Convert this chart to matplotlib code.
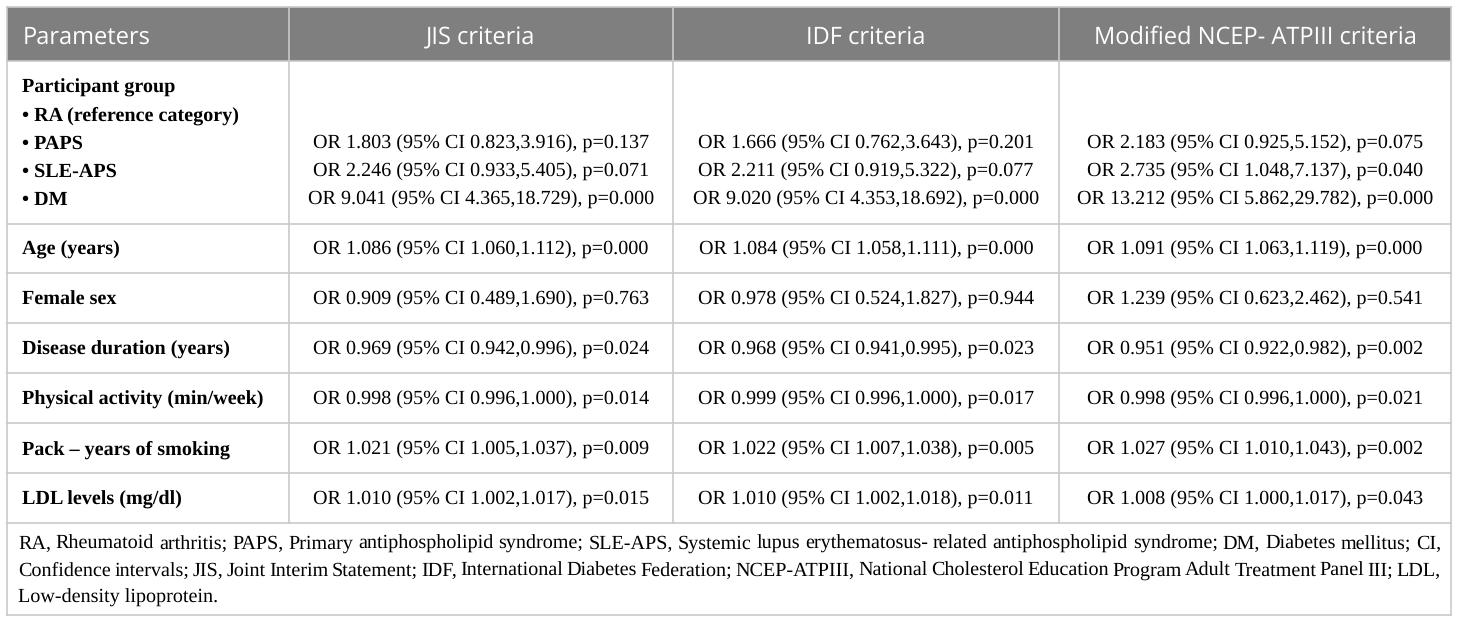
import matplotlib.pyplot as plt
from matplotlib.patches import Rectangle

plt.rcParams['text.hinting'] = 'no_hinting'

# table content
headers = ['Parameters', 'JIS criteria', 'IDF criteria', 'Modified NCEP- ATPIII criteria']

group_title = 'Participant group'
group_items = ['RA (reference category)', 'PAPS', 'SLE-APS', 'DM']
group_jis = ['', 'OR 1.803 (95% CI 0.823,3.916), p=0.137',
             'OR 2.246 (95% CI 0.933,5.405), p=0.071',
             'OR 9.041 (95% CI 4.365,18.729), p=0.000']
group_idf = ['', 'OR 1.666 (95% CI 0.762,3.643), p=0.201',
             'OR 2.211 (95% CI 0.919,5.322), p=0.077',
             'OR 9.020 (95% CI 4.353,18.692), p=0.000']
group_ncep = ['', 'OR 2.183 (95% CI 0.925,5.152), p=0.075',
              'OR 2.735 (95% CI 1.048,7.137), p=0.040',
              'OR 13.212 (95% CI 5.862,29.782), p=0.000']

params = ['Age (years)', 'Female sex', 'Disease duration (years)',
          'Physical activity (min/week)', 'Pack \u2013 years of smoking',
          'LDL levels (mg/dl)']
jis = ['OR 1.086 (95% CI 1.060,1.112), p=0.000',
       'OR 0.909 (95% CI 0.489,1.690), p=0.763',
       'OR 0.969 (95% CI 0.942,0.996), p=0.024',
       'OR 0.998 (95% CI 0.996,1.000), p=0.014',
       'OR 1.021 (95% CI 1.005,1.037), p=0.009',
       'OR 1.010 (95% CI 1.002,1.017), p=0.015']
idf = ['OR 1.084 (95% CI 1.058,1.111), p=0.000',
       'OR 0.978 (95% CI 0.524,1.827), p=0.944',
       'OR 0.968 (95% CI 0.941,0.995), p=0.023',
       'OR 0.999 (95% CI 0.996,1.000), p=0.017',
       'OR 1.022 (95% CI 1.007,1.038), p=0.005',
       'OR 1.010 (95% CI 1.002,1.018), p=0.011']
ncep = ['OR 1.091 (95% CI 1.063,1.119), p=0.000',
        'OR 1.239 (95% CI 0.623,2.462), p=0.541',
        'OR 0.951 (95% CI 0.922,0.982), p=0.002',
        'OR 0.998 (95% CI 0.996,1.000), p=0.021',
        'OR 1.027 (95% CI 1.010,1.043), p=0.002',
        'OR 1.008 (95% CI 1.000,1.017), p=0.043']

footnote = [
    'RA, Rheumatoid arthritis; PAPS, Primary antiphospholipid syndrome; SLE-APS, Systemic lupus '
    'erythematosus- related antiphospholipid syndrome; DM, Diabetes mellitus; CI,',
    'Confidence intervals; JIS, Joint Interim Statement; IDF, International Diabetes Federation; '
    'NCEP-ATPIII, National Cholesterol Education Program Adult Treatment Panel III; LDL,',
    'Low-density lipoprotein.',
]

# layout (pixels)
W, H = 1460, 624
col_x = [7, 289, 673, 1059, 1451]
row_y = [7, 61, 224, 273, 323, 373, 423, 473, 523, 615]
grid_c = '#c9c9c9'
head_c = '#7f7f7f'
serif = 'Liberation Serif'
fs = 14.5

fig = plt.figure(figsize=(W / 100, H / 100), dpi=100)
ax = fig.add_axes([0, 0, 1, 1])
ax.set_xlim(0, W)
ax.set_ylim(H, 0)
ax.axis('off')

# header band
ax.add_patch(Rectangle((col_x[0], row_y[0]), col_x[-1] - col_x[0], row_y[1] - row_y[0],
                       facecolor=head_c, edgecolor='none', zorder=1))

# grid lines
for y in row_y:
    ax.plot([col_x[0], col_x[-1]], [y, y], color=grid_c, lw=1.2, zorder=2)
for x in (col_x[0], col_x[-1]):
    ax.plot([x, x], [row_y[0], row_y[-1]], color=grid_c, lw=1.2, zorder=2)
for x in col_x[1:-1]:
    ax.plot([x, x], [row_y[0], row_y[-2]], color=grid_c, lw=1.2, zorder=2)

# header text
ax.text(23, 44, headers[0], color='white', fontsize=17, family='Open Sans',
        ha='left', va='baseline', zorder=3)
for i in range(1, 4):
    ax.text((col_x[i] + col_x[i + 1]) / 2, 44, headers[i], color='white', fontsize=17,
            family='Open Sans', ha='center', va='baseline', zorder=3)

# participant group block
base = 93
ax.text(22, base, group_title, fontsize=fs, family=serif, weight='bold', va='baseline')
for k, item in enumerate(group_items):
    yb = base + 28 * (k + 1)
    ax.text(22, yb, '\u2022 ' + item, fontsize=fs, family=serif, weight='bold', va='baseline')
    for c, col in enumerate((group_jis, group_idf, group_ncep)):
        if col[k]:
            ax.text((col_x[c + 1] + col_x[c + 2]) / 2, yb, col[k], fontsize=fs,
                    family=serif, ha='center', va='baseline')

# single-line rows
for r, name in enumerate(params):
    yb = (row_y[r + 2] + row_y[r + 3]) / 2 + 6.5
    ax.text(22, yb, name, fontsize=fs, family=serif, weight='bold', va='baseline')
    for c, col in enumerate((jis, idf, ncep)):
        ax.text((col_x[c + 1] + col_x[c + 2]) / 2, yb, col[r], fontsize=fs,
                family=serif, ha='center', va='baseline')

# footnote, first lines justified
renderer = fig.canvas.get_renderer()
left, right = 18, 1441
for n, line in enumerate(footnote):
    yb = 549 + 27 * n
    if n == len(footnote) - 1:
        ax.text(left, yb, line, fontsize=fs, family=serif, va='baseline')
        continue
    words = line.split(' ')
    arts = [ax.text(0, yb, w, fontsize=fs, family=serif, va='baseline') for w in words]
    widths = [a.get_window_extent(renderer).width for a in arts]
    gap = (right - left - sum(widths)) / (len(words) - 1)
    x = left
    for a, w in zip(arts, widths):
        a.set_x(x)
        x += w + gap

fig.savefig('out.png', dpi=100)
